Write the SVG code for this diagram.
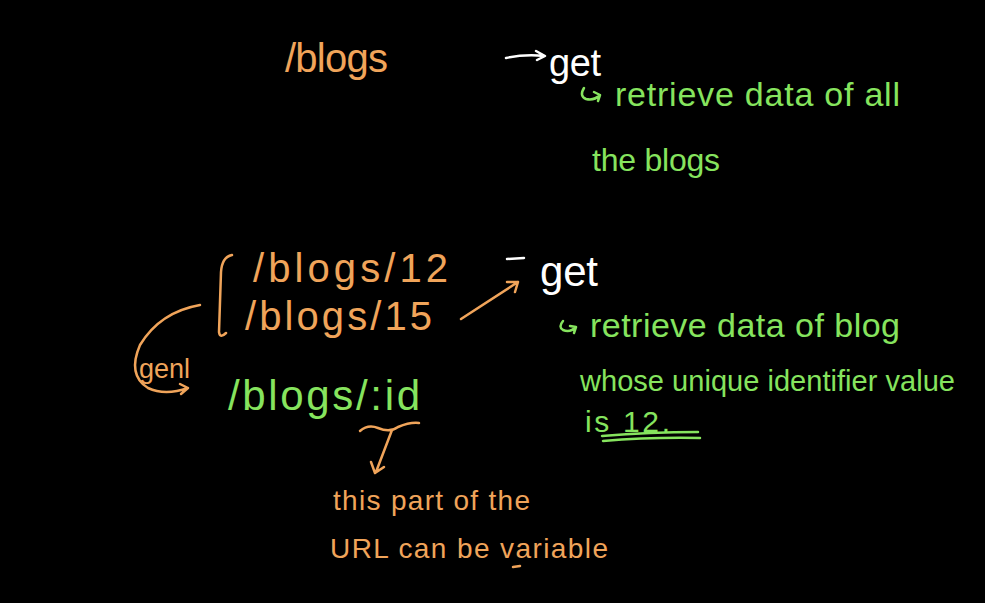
<svg xmlns="http://www.w3.org/2000/svg" width="985" height="603" viewBox="0 0 985 603">
<style>
text{font-family:"Liberation Sans","DejaVu Sans",sans-serif}
.o{fill:#f0a45a}.g{fill:#86e45e}.w{fill:#ffffff}
.so{stroke:#f0a45a;fill:none;stroke-width:2.5;stroke-linecap:round;stroke-linejoin:round}
.sg{stroke:#86e45e;fill:none;stroke-width:2.5;stroke-linecap:round;stroke-linejoin:round}
.sw{stroke:#ffffff;fill:none;stroke-width:2.5;stroke-linecap:round;stroke-linejoin:round}
</style>
<rect width="985" height="603" fill="#000"/>
<g id="route-blogs">
<text class="o" x="285" y="72" font-size="40" textLength="103" lengthAdjust="spacing">/blogs</text>
</g>
<g id="get-1">
<text class="w" x="549" y="76" font-size="38" textLength="52" lengthAdjust="spacing">get</text>
</g>
<g id="desc-1">
<text class="g" x="615" y="106" font-size="34" textLength="285" lengthAdjust="spacing">retrieve data of all</text>
<text class="g" x="592" y="171" font-size="32" textLength="128" lengthAdjust="spacing">the blogs</text>
</g>
<g id="routes-examples">
<path class="so" d="M232,255 Q222,257 221,272 L219,332 Q220,339 226,333"/>
<text class="o" x="253" y="282" font-size="40" textLength="195" lengthAdjust="spacing">/blogs/12</text>
<text class="o" x="245" y="330" font-size="40" textLength="187" lengthAdjust="spacing">/blogs/15</text>
</g>
<g id="general">
<text class="o" x="139" y="378" font-size="27">genl</text>
</g>
<g id="route-id">
<text class="g" x="228" y="410" font-size="42" textLength="192" lengthAdjust="spacing">/blogs/:id</text>
</g>
<g id="get-2">
<text class="w" x="540" y="286" font-size="42" textLength="58" lengthAdjust="spacing">get</text>
</g>
<g id="desc-2">
<text class="g" x="590" y="337" font-size="34" textLength="310" lengthAdjust="spacing">retrieve data of blog</text>
<text class="g" x="580" y="391" font-size="29" textLength="375" lengthAdjust="spacing">whose unique identifier value</text>
<text class="g" x="585" y="432" font-size="30" textLength="85" lengthAdjust="spacing">is 12.</text>
</g>
<g id="note">
<text class="o" x="333" y="510" font-size="28" textLength="197" lengthAdjust="spacing">this part of the</text>
<text class="o" x="330" y="558" font-size="28" textLength="278" lengthAdjust="spacing">URL can be variable</text>
</g>
<g id="connectors">
<path class="sw" d="M506,58 Q525,54 544,56 M536,51 L545,56 L537,60"/>
<path class="sg" d="M584,88 Q579,96 586,99 Q594,101 600,95 M594,92 L600,95 L598,101"/>
<path class="sw" d="M507,259 L524,258"/>
<path class="so" d="M461,319 Q490,300 518,282 M507,282 L518,282 L515,292"/>
<path class="so" d="M200,305 Q160,312 140,345 Q127,375 148,388 Q165,396 188,388 M180,384 L188,388 L181,394"/>
<path class="sg" d="M563,321 Q558,327 563,330 Q570,333 576,327 M570,326 L576,327 L574,333"/>
<path class="sg" d="M602,436 Q650,432 698,432 M603,441 Q650,437 700,438"/>
<path class="so" d="M360,431 Q368,424 378,428 Q390,433 398,427 Q410,422 419,423 M392,430 L376,472 M371,462 L375,473 L384,467"/>
<path class="so" d="M513,567 L520,566"/>
</g>
</svg>
